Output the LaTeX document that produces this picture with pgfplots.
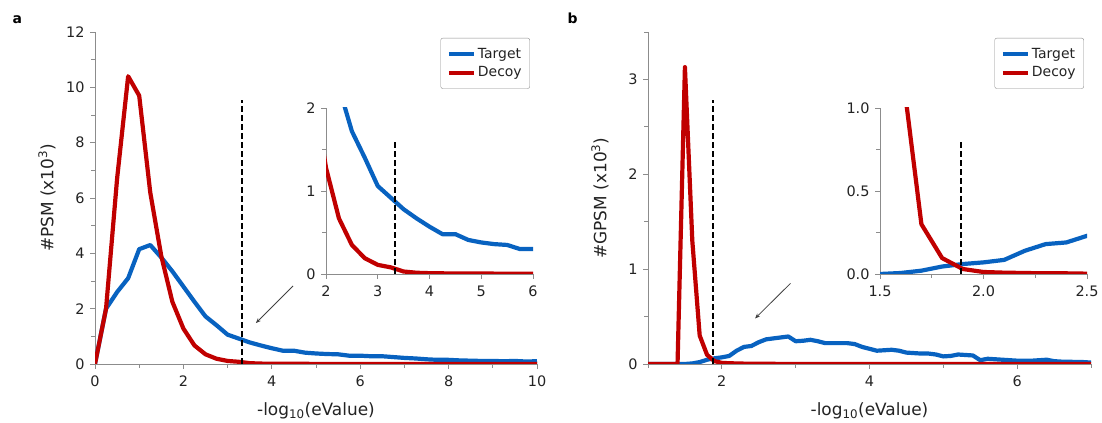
\documentclass[border=0pt]{standalone}
\usepackage{fontspec}
\setmainfont{DejaVu Sans}
\usepackage{pgfplots}
\pgfplotsset{compat=1.18}
\usepackage{pgfplotstable}
\usetikzlibrary{arrows.meta}
\definecolor{tblue}{RGB}{8,98,192}
\definecolor{dred}{RGB}{192,0,0}
\definecolor{axgray}{RGB}{140,140,140}
\definecolor{txt}{RGB}{35,35,35}

\pgfplotstableread{
x y
0 0
0.25 2.0
0.5 2.6
0.75 3.1
1.0 4.15
1.25 4.3
1.5 3.85
1.75 3.35
2.0 2.8
2.25 2.25
2.5 1.72
2.75 1.40
3.0 1.06
3.25 0.92
3.5 0.78
3.75 0.67
4.0 0.57
4.25 0.48
4.5 0.48
4.75 0.41
5.0 0.38
5.25 0.36
5.5 0.35
5.75 0.30
6.0 0.30
6.25 0.28
6.5 0.28
6.75 0.25
7.0 0.22
7.25 0.20
7.5 0.17
7.75 0.15
8.0 0.15
8.25 0.13
8.5 0.12
8.75 0.11
9.0 0.11
9.25 0.10
9.5 0.11
9.75 0.09
10.0 0.10
}\atarget

\pgfplotstableread{
x y
0 0
0.25 2.0
0.5 6.7
0.75 10.4
1.0 9.7
1.25 6.2
1.5 3.9
1.75 2.25
2.0 1.28
2.25 0.67
2.5 0.35
2.75 0.19
3.0 0.11
3.25 0.08
3.5 0.03
3.75 0.015
4.0 0.01
4.25 0.008
4.5 0.006
5.0 0.005
6.0 0.004
7.0 0.003
8.0 0.002
9.0 0.002
10.0 0.001
}\adecoy

\pgfplotstableread{
x y
1.0 0
1.1 0
1.2 0
1.3 0
1.4 0
1.5 0
1.6 0.006
1.7 0.02
1.8 0.045
1.9 0.06
2.0 0.07
2.1 0.085
2.2 0.14
2.3 0.18
2.4 0.19
2.5 0.23
2.6 0.26
2.7 0.27
2.8 0.28
2.9 0.29
3.0 0.24
3.1 0.245
3.2 0.255
3.3 0.24
3.4 0.22
3.5 0.22
3.6 0.22
3.7 0.22
3.8 0.21
3.9 0.18
4.0 0.16
4.1 0.14
4.2 0.145
4.3 0.15
4.4 0.14
4.5 0.12
4.6 0.115
4.7 0.11
4.8 0.11
4.9 0.10
5.0 0.08
5.1 0.085
5.2 0.10
5.3 0.095
5.4 0.09
5.5 0.04
5.6 0.055
5.7 0.05
5.8 0.045
5.9 0.04
6.0 0.035
6.1 0.035
6.2 0.035
6.3 0.04
6.4 0.045
6.5 0.03
6.6 0.025
6.7 0.025
6.8 0.02
6.9 0.02
7.0 0.015
}\btarget

\pgfplotstableread{
x y
1.0 0
1.1 0
1.2 0
1.3 0
1.4 0
1.5 3.13
1.6 1.3
1.7 0.30
1.8 0.096
1.9 0.03
2.0 0.012
2.1 0.008
2.2 0.006
2.3 0.004
2.4 0.004
2.5 0.002
3.0 0.001
4.0 0.001
5.0 0.001
6.0 0.001
7.0 0.001
}\bdecoy

\pgfplotsset{
  base/.style={
    scale only axis,
    axis lines=left,
    axis line style={axgray, line width=0.9bp, -},
    tick style={axgray, line width=0.9bp},
    tick align=outside,
    major tick length=5bp,
    minor tick length=4bp,
    tick label style={font=\fontsize{14.5}{17}\selectfont, text=txt},
    xticklabel style={yshift=-3bp},
    yticklabel style={xshift=-2bp},
    /pgf/number format/assume math mode=true,
    every axis x label/.style={at={(axis description cs:0.5,0)}, anchor=base, yshift=-52bp,
      font=\fontsize{17}{20}\selectfont, text=txt},
    every axis y label/.style={at={([xshift=-48bp]axis description cs:0,0.5)}, anchor=center, rotate=90,
      font=\fontsize{17}{20}\selectfont, text=txt},
    legend style={draw=axgray, rounded corners=2bp, font=\fontsize{14}{17}\selectfont, text=txt,
      inner xsep=6bp, inner ysep=8bp, row sep=3bp, legend cell align=left},
    legend image code/.code={\draw[##1] (0bp,0bp) -- (25bp,0bp);},
  },
  tser/.style={tblue, line width=4.2bp, line join=round, no markers},
  dser/.style={dred, line width=4.2bp, line join=round, no markers},
  cut/.style={black, line width=2.2bp, dash pattern=on 6bp off 3bp, no markers},
}

\begin{document}
\begin{tikzpicture}
\path (0,0) rectangle (1102bp,421bp);
\node[font=\bfseries\fontsize{14}{16}\selectfont, anchor=base west] at (9bp,397bp) {a};
\node[font=\bfseries\fontsize{14}{16}\selectfont, anchor=base west] at (564bp,397bp) {b};

% Panel a main
\begin{axis}[base, at={(95bp,57bp)}, anchor=south west, width=442bp, height=332bp,
  xmin=0, xmax=10, ymin=0, ymax=12,
  xtick={0,2,...,10}, minor xtick={1,3,...,9},
  ytick={0,2,...,12}, minor ytick={1,3,...,11},
  xlabel={-log\textsubscript{10}(eValue)},
  ylabel={\#PSM (x10\textsuperscript{3})},
  legend style={at={(0.984,0.982)}, anchor=north east}]
\addplot[tser] table {\atarget};
\addlegendentry{Target}
\addplot[dser] table {\adecoy};
\addlegendentry{Decoy}
\addplot[cut, forget plot] coordinates {(3.33,0) (3.33,9.54)};
\draw[black!75, line width=0.8bp, -{Stealth[length=5bp, width=4bp]}] (axis cs:4.48,2.82) -- (axis cs:3.64,1.48);
\end{axis}

% Panel a inset
\begin{axis}[base, at={(326bp,147bp)}, anchor=south west, width=207bp, height=166bp,
  xmin=2, xmax=6, ymin=0, ymax=2,
  xtick={2,3,4,5,6}, ytick={0,1,2}, minor ytick={0.5,1.5}]
\addplot[tser] table {\atarget};
\addplot[dser] table {\adecoy};
\addplot[cut] coordinates {(3.33,0) (3.33,1.59)};
\end{axis}

% Panel b main
\begin{axis}[base, at={(648bp,57bp)}, anchor=south west, width=443bp, height=332bp,
  xmin=1, xmax=7, ymin=0, ymax=3.5,
  xtick={2,4,6}, minor xtick={1,3,5,7},
  ytick={0,1,2,3}, minor ytick={0.5,1.5,2.5,3.5},
  xlabel={-log\textsubscript{10}(eValue)},
  ylabel={\#GPSM (x10\textsuperscript{3})},
  legend style={at={(0.984,0.982)}, anchor=north east}]
\addplot[tser] table {\btarget};
\addlegendentry{Target}
\addplot[dser] table {\bdecoy};
\addlegendentry{Decoy}
\addplot[cut, forget plot] coordinates {(1.88,0) (1.88,2.78)};
\draw[black!75, line width=0.8bp, -{Stealth[length=5bp, width=4bp]}] (axis cs:2.93,0.85) -- (axis cs:2.45,0.48);
\end{axis}

% Panel b inset
\begin{axis}[base, at={(880bp,147bp)}, anchor=south west, width=207bp, height=166bp,
  xmin=1.5, xmax=2.5, ymin=0, ymax=1,
  xtick={1.5,2.0,2.5}, minor xtick={1.75,2.25},
  ytick={0,0.5,1.0}, minor ytick={0.25,0.75},
  xticklabel style={/pgf/number format/.cd, fixed, fixed zerofill, precision=1},
  yticklabel style={/pgf/number format/.cd, fixed, fixed zerofill, precision=1}]
\addplot[tser] table {\btarget};
\addplot[dser] table {\bdecoy};
\addplot[cut] coordinates {(1.89,0) (1.89,0.8)};
\end{axis}
\end{tikzpicture}
\end{document}
